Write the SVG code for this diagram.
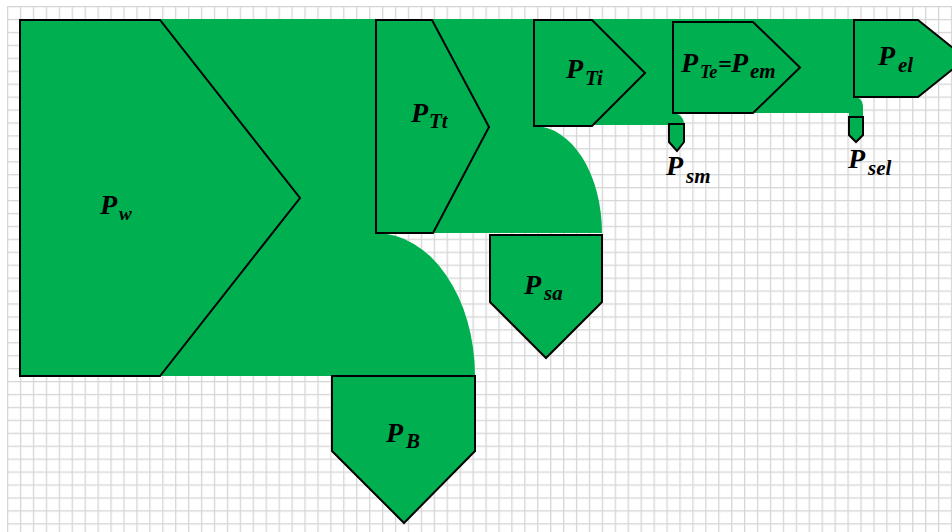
<svg xmlns="http://www.w3.org/2000/svg" width="952" height="532" viewBox="0 0 952 532">
  <style>
    .node { fill: #00B050; stroke: #000; stroke-width: 2; stroke-linejoin: miter; }
    .flow { fill: #00B050; stroke: none; }
    .lbl { font-family: "Liberation Serif", "DejaVu Serif", serif; font-weight: bold; font-style: italic; fill: #000; }
    .P { font-size: 28px; }
    .sub { font-size: 21px; }
  </style>
  <defs>
    <pattern id="grid" x="7" y="6" width="12.93" height="12.93" patternUnits="userSpaceOnUse">
      <rect x="0" y="0" width="1.3" height="12.93" fill="#d6d6d6"/>
      <rect x="0" y="0" width="12.93" height="1.3" fill="#d6d6d6"/>
    </pattern>
  </defs>
  <rect x="0" y="0" width="952" height="532" fill="#fff"/>
  <rect x="7" y="6" width="945" height="526" fill="url(#grid)"/>

  <g id="connectors">
    <rect class="flow" x="20" y="19" width="836" height="94"/>
    <rect class="flow" x="20" y="19" width="653" height="106"/>
    <path class="flow" d="M673,113 A11,11 0 0 1 684,124 V126 H669 V113 Z"/>
    <path class="flow" d="M849,96 H853 A10,10 0 0 1 863,106 V118 H849 Z"/>
    <rect class="flow" x="20" y="19" width="514" height="214"/>
    <path class="flow" d="M534,126 A68,107 0 0 1 602,233 H534 Z"/>
    <rect class="flow" x="20" y="19" width="356" height="357"/>
    <path class="flow" d="M376,233 A99,143 0 0 1 475,376 H376 Z"/>
  </g>

  <g id="Pw">
    <polygon class="node" points="20,20 160,20 300,198 160,376 20,376"/>
    <text class="lbl"><tspan class="P" x="100" y="214">P</tspan><tspan class="sub" x="119" y="220" style="font-size:19px">w</tspan></text>
  </g>
  <g id="PTt">
    <polygon class="node" points="376,20 432,20 489,127 433,233 376,233"/>
    <text class="lbl"><tspan class="P" x="411" y="122">P</tspan><tspan class="sub" x="429" y="128">Tt</tspan></text>
  </g>
  <g id="PTi">
    <polygon class="node" points="534,20 592,20 645,73 592,126 534,126"/>
    <text class="lbl"><tspan class="P" x="566" y="78">P</tspan><tspan class="sub" x="585" y="85">Ti</tspan></text>
  </g>
  <g id="PTe">
    <polygon class="node" points="673,22 753,22 800,67.5 753,113 673,113"/>
    <text class="lbl"><tspan class="P" x="681" y="72">P</tspan><tspan class="sub" x="700" y="78" style="font-size:18px">Te</tspan><tspan class="P" x="718" y="72" style="font-size:24px">=</tspan><tspan class="P" x="731" y="72">P</tspan><tspan class="sub" x="750" y="78">em</tspan></text>
  </g>
  <g id="Pel">
    <polygon class="node" points="854,20 918,20 966,58.5 918,97 854,97"/>
    <text class="lbl"><tspan class="P" x="878" y="65">P</tspan><tspan class="sub" x="898" y="72">el</tspan></text>
  </g>
  <g id="Psm">
    <polygon class="node" points="669,124 684,124 684,142 677,151 669,142"/>
    <text class="lbl"><tspan class="P" x="666" y="175">P</tspan><tspan class="sub" x="686" y="183">sm</tspan></text>
  </g>
  <g id="Psel">
    <polygon class="node" points="849,117 863,117 863,135 856,142 849,135"/>
    <text class="lbl"><tspan class="P" x="848" y="168">P</tspan><tspan class="sub" x="868" y="175">sel</tspan></text>
  </g>
  <g id="Psa">
    <polygon class="node" points="490,235 602,235 602,302 546,358 490,302"/>
    <text class="lbl"><tspan class="P" x="524" y="294">P</tspan><tspan class="sub" x="544" y="300">sa</tspan></text>
  </g>
  <g id="PB">
    <polygon class="node" points="332,376 475,376 475,451 404,523 332,451"/>
    <text class="lbl"><tspan class="P" x="386" y="442">P</tspan><tspan class="sub" x="406" y="448">B</tspan></text>
  </g>
</svg>
